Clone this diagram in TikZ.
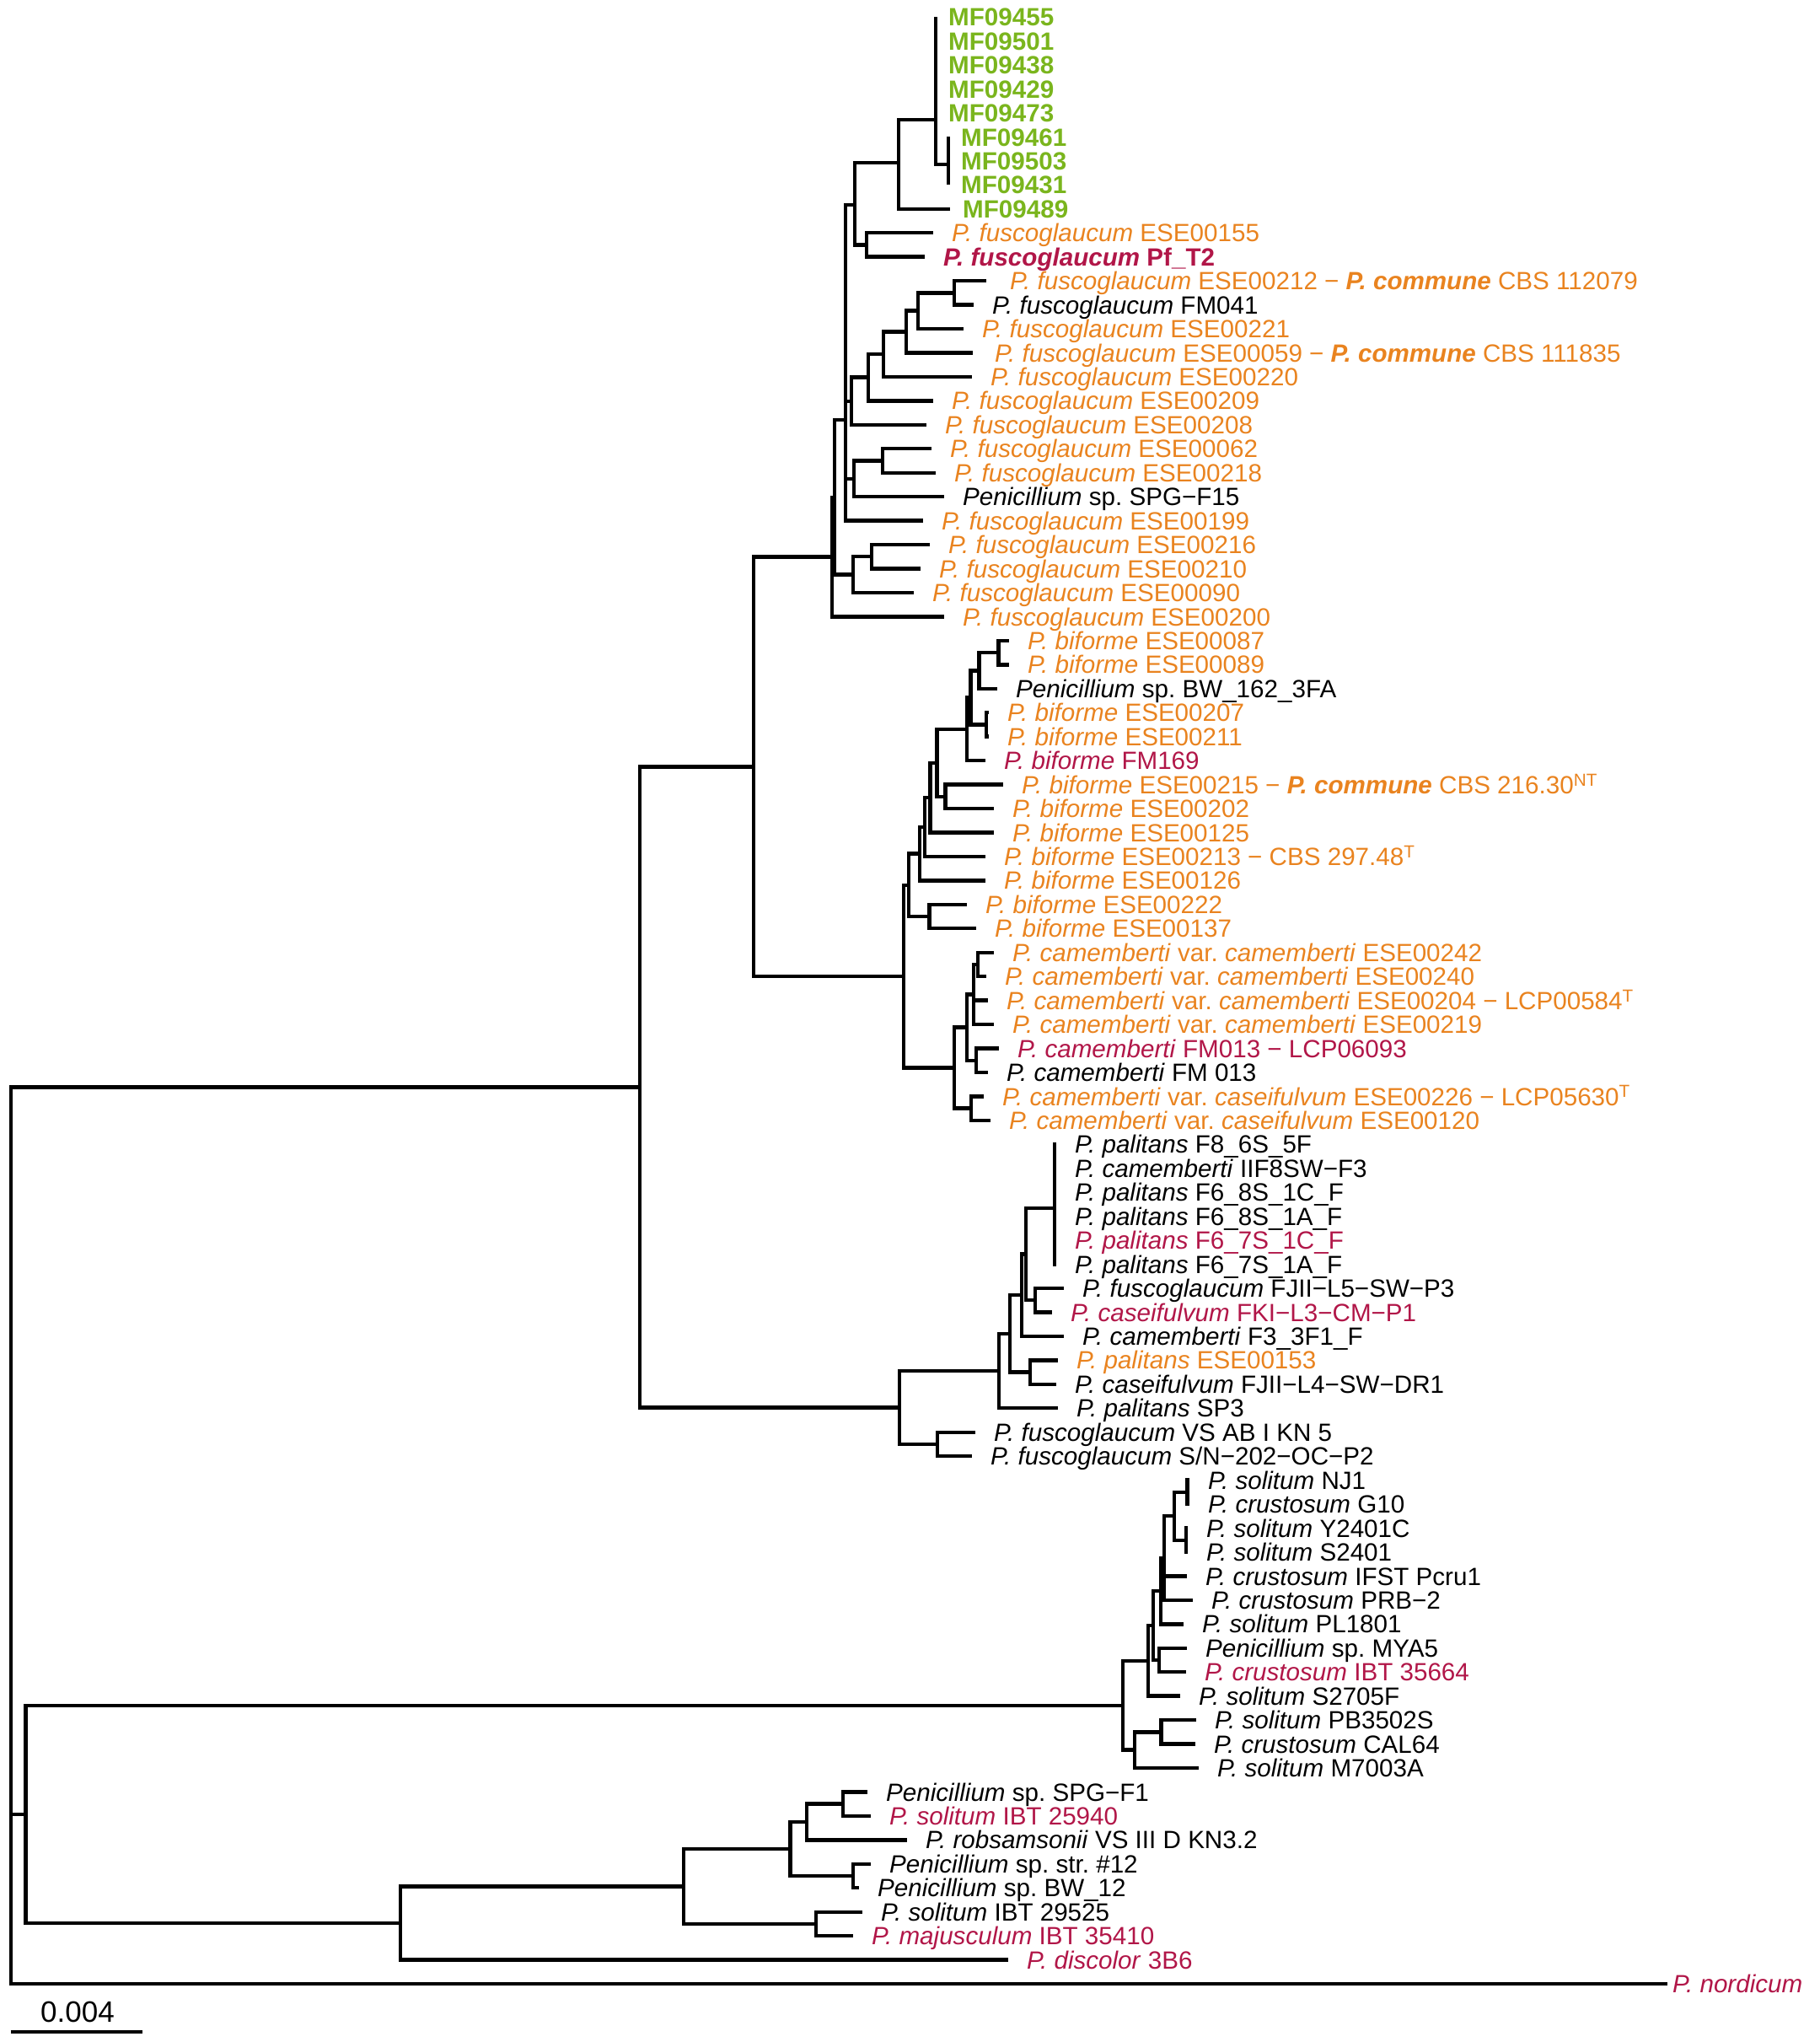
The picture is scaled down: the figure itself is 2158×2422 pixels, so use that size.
\documentclass[tikz,border=0pt]{standalone}
\usepackage{fontspec}
\setmainfont{Liberation Sans}
\usepackage{tikz}
\usetikzlibrary{positioning}
\definecolor{mfgreen}{RGB}{122,181,29}
\definecolor{eseorange}{RGB}{233,131,31}
\definecolor{refred}{RGB}{177,22,72}
\newcommand{\tx}[1]{\textit{#1}}
\newcommand{\bx}[1]{\textbf{\textit{#1}}}
\frenchspacing

\begin{document}
\begin{tikzpicture}[x=1pt, y=-1pt,
  branch/.style={line width=4.4pt},
  lab/.style={inner sep=0pt, text height=21.2pt, text depth=0pt, anchor=west, font=\fontsize{29.6}{34}\selectfont},
  mflab/.style={lab, text=mfgreen, font=\fontsize{29.6}{34}\selectfont\bfseries},
  eselab/.style={lab, text=eseorange},
  reflab/.style={lab, text=refred},
  refbold/.style={lab, text=refred, font=\fontsize{29.6}{34}\selectfont\bfseries},
  blklab/.style={lab, text=black},
  scalelab/.style={inner sep=0pt, font=\fontsize{35}{40}\selectfont}]

\useasboundingbox (0,0) rectangle (2158,2422);

\coordinate (t1) at (1110,20.1);
\coordinate (t2) at (1110,48.6);
\coordinate (t3) at (1110,77.0);
\coordinate (t4) at (1110,105.5);
\coordinate (t5) at (1110,133.9);
\coordinate (t6) at (1125,162.4);
\coordinate (t7) at (1125,190.8);
\coordinate (t8) at (1125,219.3);
\coordinate (t9) at (1127,247.7);
\coordinate (t10) at (1107,276.2);
\coordinate (t11) at (1097,304.6);
\coordinate (t12) at (1170,333.1);
\coordinate (t13) at (1155,361.5);
\coordinate (t14) at (1143,390.0);
\coordinate (t15) at (1154,418.4);
\coordinate (t16) at (1153,446.9);
\coordinate (t17) at (1107,475.3);
\coordinate (t18) at (1099,503.8);
\coordinate (t19) at (1105,532.2);
\coordinate (t20) at (1110,560.7);
\coordinate (t21) at (1120,589.1);
\coordinate (t22) at (1095,617.6);
\coordinate (t23) at (1103,646.0);
\coordinate (t24) at (1092,674.5);
\coordinate (t25) at (1084,702.9);
\coordinate (t26) at (1120,731.4);
\coordinate (t27) at (1197,759.8);
\coordinate (t28) at (1197,788.3);
\coordinate (t29) at (1183,816.7);
\coordinate (t30) at (1173,845.2);
\coordinate (t31) at (1173,873.6);
\coordinate (t32) at (1169,902.1);
\coordinate (t33) at (1190,930.5);
\coordinate (t34) at (1179,959.0);
\coordinate (t35) at (1179,987.4);
\coordinate (t36) at (1169,1015.9);
\coordinate (t37) at (1169,1044.3);
\coordinate (t38) at (1147,1072.8);
\coordinate (t39) at (1158,1101.2);
\coordinate (t40) at (1179,1129.7);
\coordinate (t41) at (1170,1158.1);
\coordinate (t42) at (1172,1186.6);
\coordinate (t43) at (1179,1215.0);
\coordinate (t44) at (1185,1243.5);
\coordinate (t45) at (1172,1271.9);
\coordinate (t46) at (1167,1300.4);
\coordinate (t47) at (1175,1328.8);
\coordinate (t48) at (1253,1357.3);
\coordinate (t49) at (1253,1385.7);
\coordinate (t50) at (1253,1414.2);
\coordinate (t51) at (1253,1442.6);
\coordinate (t52) at (1253,1471.1);
\coordinate (t53) at (1253,1499.5);
\coordinate (t54) at (1262,1528.0);
\coordinate (t55) at (1248,1556.4);
\coordinate (t56) at (1262,1584.9);
\coordinate (t57) at (1255,1613.3);
\coordinate (t58) at (1253,1641.8);
\coordinate (t59) at (1255,1670.2);
\coordinate (t60) at (1157,1698.7);
\coordinate (t61) at (1153,1727.1);
\coordinate (t62) at (1411,1755.6);
\coordinate (t63) at (1411,1784.0);
\coordinate (t64) at (1409,1812.5);
\coordinate (t65) at (1409,1840.9);
\coordinate (t66) at (1408,1869.4);
\coordinate (t67) at (1415,1897.8);
\coordinate (t68) at (1404,1926.3);
\coordinate (t69) at (1408,1954.7);
\coordinate (t70) at (1407,1983.2);
\coordinate (t71) at (1400,2011.6);
\coordinate (t72) at (1419,2040.1);
\coordinate (t73) at (1418,2068.5);
\coordinate (t74) at (1422,2097.0);
\coordinate (t75) at (1029,2125.4);
\coordinate (t76) at (1033,2153.9);
\coordinate (t77) at (1076,2182.3);
\coordinate (t78) at (1033,2210.8);
\coordinate (t79) at (1019,2239.2);
\coordinate (t80) at (1023,2267.7);
\coordinate (t81) at (1012,2296.1);
\coordinate (t82) at (1196,2324.6);
\coordinate (t83) at (1978,2353.0);

\coordinate (nA) at (1110,142);
\coordinate (nB) at (1125,195);
\coordinate (nC) at (1066,193);
\coordinate (nE) at (1028,290.4);
\coordinate (nD) at (1014,243);
\coordinate (n12) at (1132,347.3);
\coordinate (n14) at (1089,368.6);
\coordinate (n15) at (1075,393.5);
\coordinate (n16) at (1048,420);
\coordinate (n17) at (1030,447.6);
\coordinate (n18) at (1010,475.7);
\coordinate (n19) at (1047,546.4);
\coordinate (n20) at (1013,567.8);
\coordinate (nH) at (1003,498);
\coordinate (n23) at (1034,660.2);
\coordinate (n25) at (1012,681.6);
\coordinate (nI) at (990,589.8);
\coordinate (nG) at (987,660.6);
\coordinate (a1) at (1184.6,774);
\coordinate (a2) at (1161.4,795.4);
\coordinate (a4) at (1170,859.4);
\coordinate (a3) at (1151.4,827.4);
\coordinate (a5) at (1147,864.7);
\coordinate (a7) at (1121.4,944.7);
\coordinate (a6) at (1111.4,904.7);
\coordinate (a8) at (1103.6,946);
\coordinate (a9) at (1097,980.9);
\coordinate (a10) at (1091,1012.6);
\coordinate (a12) at (1102.5,1087);
\coordinate (a11) at (1078,1049.8);
\coordinate (c6) at (1160,1143.9);
\coordinate (c4) at (1155,1179.5);
\coordinate (c5) at (1158,1257.7);
\coordinate (c3) at (1147,1218.6);
\coordinate (c2) at (1152,1314.6);
\coordinate (c1) at (1132,1266.6);
\coordinate (a13) at (1072,1158.2);
\coordinate (nV) at (894,909.4);
\coordinate (p1) at (1250.7,1433);
\coordinate (p3) at (1228,1542.2);
\coordinate (p2) at (1216.7,1487.6);
\coordinate (p4) at (1211.7,1536.2);
\coordinate (p6) at (1221.7,1627.5);
\coordinate (p5) at (1198,1581.9);
\coordinate (p7) at (1185,1626);
\coordinate (p9) at (1111.7,1712.9);
\coordinate (p8) at (1066.7,1669.5);
\coordinate (nU) at (759,1289.4);
\coordinate (k1) at (1408.3,1769.8);
\coordinate (k2) at (1406.7,1826.7);
\coordinate (k3) at (1392.7,1798.2);
\coordinate (k4a) at (1381,1848);
\coordinate (k4) at (1377,1887);
\coordinate (k6) at (1375,1968.9);
\coordinate (k5) at (1368,1928);
\coordinate (k7) at (1361.7,1969.8);
\coordinate (k10) at (1377.3,2054.3);
\coordinate (k9) at (1345.7,2075.6);
\coordinate (k8) at (1331.7,2022.7);
\coordinate (nT) at (1000,2139.6);
\coordinate (nP) at (957,2161);
\coordinate (nS) at (1012,2225);
\coordinate (nO) at (937.5,2193);
\coordinate (nQ) at (968,2281.9);
\coordinate (nN) at (811,2237.4);
\coordinate (nM) at (475,2281);
\coordinate (nL) at (30.6,2151.9);
\coordinate (root) at (12.8,1821);

\node (l1) [mflab, right=15pt of t1] {MF09455};
\node (l2) [mflab, right=15pt of t2] {MF09501};
\node (l3) [mflab, right=15pt of t3] {MF09438};
\node (l4) [mflab, right=15pt of t4] {MF09429};
\node (l5) [mflab, right=15pt of t5] {MF09473};
\node (l6) [mflab, right=15pt of t6] {MF09461};
\node (l7) [mflab, right=15pt of t7] {MF09503};
\node (l8) [mflab, right=15pt of t8] {MF09431};
\node (l9) [mflab, right=15pt of t9] {MF09489};
\node (l10) [eselab, right=22pt of t10] {\tx{P. fuscoglaucum} ESE00155};
\node (l11) [refbold, right=22pt of t11] {\tx{P. fuscoglaucum} Pf\_T2};
\node (l12) [eselab, right=28pt of t12] {\tx{P. fuscoglaucum} ESE00212 − \bx{P. commune} CBS 112079};
\node (l13) [blklab, right=22pt of t13] {\tx{P. fuscoglaucum} FM041};
\node (l14) [eselab, right=22pt of t14] {\tx{P. fuscoglaucum} ESE00221};
\node (l15) [eselab, right=26pt of t15] {\tx{P. fuscoglaucum} ESE00059 − \bx{P. commune} CBS 111835};
\node (l16) [eselab, right=22pt of t16] {\tx{P. fuscoglaucum} ESE00220};
\node (l17) [eselab, right=22pt of t17] {\tx{P. fuscoglaucum} ESE00209};
\node (l18) [eselab, right=22pt of t18] {\tx{P. fuscoglaucum} ESE00208};
\node (l19) [eselab, right=22pt of t19] {\tx{P. fuscoglaucum} ESE00062};
\node (l20) [eselab, right=22pt of t20] {\tx{P. fuscoglaucum} ESE00218};
\node (l21) [blklab, right=22pt of t21] {\tx{Penicillium} sp. SPG−F15};
\node (l22) [eselab, right=22pt of t22] {\tx{P. fuscoglaucum} ESE00199};
\node (l23) [eselab, right=22pt of t23] {\tx{P. fuscoglaucum} ESE00216};
\node (l24) [eselab, right=22pt of t24] {\tx{P. fuscoglaucum} ESE00210};
\node (l25) [eselab, right=22pt of t25] {\tx{P. fuscoglaucum} ESE00090};
\node (l26) [eselab, right=22pt of t26] {\tx{P. fuscoglaucum} ESE00200};
\node (l27) [eselab, right=22pt of t27] {\tx{P. biforme} ESE00087};
\node (l28) [eselab, right=22pt of t28] {\tx{P. biforme} ESE00089};
\node (l29) [blklab, right=22pt of t29] {\tx{Penicillium} sp. BW\_162\_3FA};
\node (l30) [eselab, right=22pt of t30] {\tx{P. biforme} ESE00207};
\node (l31) [eselab, right=22pt of t31] {\tx{P. biforme} ESE00211};
\node (l32) [reflab, right=22pt of t32] {\tx{P. biforme} FM169};
\node (l33) [eselab, right=22pt of t33] {\tx{P. biforme} ESE00215 − \bx{P. commune} CBS 216.30\textsuperscript{NT}};
\node (l34) [eselab, right=22pt of t34] {\tx{P. biforme} ESE00202};
\node (l35) [eselab, right=22pt of t35] {\tx{P. biforme} ESE00125};
\node (l36) [eselab, right=22pt of t36] {\tx{P. biforme} ESE00213 − CBS 297.48\textsuperscript{T}};
\node (l37) [eselab, right=22pt of t37] {\tx{P. biforme} ESE00126};
\node (l38) [eselab, right=22pt of t38] {\tx{P. biforme} ESE00222};
\node (l39) [eselab, right=22pt of t39] {\tx{P. biforme} ESE00137};
\node (l40) [eselab, right=22pt of t40] {\tx{P. camemberti} var. \tx{camemberti} ESE00242};
\node (l41) [eselab, right=22pt of t41] {\tx{P. camemberti} var. \tx{camemberti} ESE00240};
\node (l42) [eselab, right=22pt of t42] {\tx{P. camemberti} var. \tx{camemberti} ESE00204 − LCP00584\textsuperscript{T}};
\node (l43) [eselab, right=22pt of t43] {\tx{P. camemberti} var. \tx{camemberti} ESE00219};
\node (l44) [reflab, right=22pt of t44] {\tx{P. camemberti} FM013 − LCP06093};
\node (l45) [blklab, right=22pt of t45] {\tx{P. camemberti} FM 013};
\node (l46) [eselab, right=22pt of t46] {\tx{P. camemberti} var. \tx{caseifulvum} ESE00226 − LCP05630\textsuperscript{T}};
\node (l47) [eselab, right=22pt of t47] {\tx{P. camemberti} var. \tx{caseifulvum} ESE00120};
\node (l48) [blklab, right=22pt of t48] {\tx{P. palitans} F8\_6S\_5F};
\node (l49) [blklab, right=22pt of t49] {\tx{P. camemberti} IIF8SW−F3};
\node (l50) [blklab, right=22pt of t50] {\tx{P. palitans} F6\_8S\_1C\_F};
\node (l51) [blklab, right=22pt of t51] {\tx{P. palitans} F6\_8S\_1A\_F};
\node (l52) [reflab, right=22pt of t52] {\tx{P. palitans} F6\_7S\_1C\_F};
\node (l53) [blklab, right=22pt of t53] {\tx{P. palitans} F6\_7S\_1A\_F};
\node (l54) [blklab, right=22pt of t54] {\tx{P. fuscoglaucum} FJII−L5−SW−P3};
\node (l55) [reflab, right=22pt of t55] {\tx{P. caseifulvum} FKI−L3−CM−P1};
\node (l56) [blklab, right=22pt of t56] {\tx{P. camemberti} F3\_3F1\_F};
\node (l57) [eselab, right=22pt of t57] {\tx{P. palitans} ESE00153};
\node (l58) [blklab, right=22pt of t58] {\tx{P. caseifulvum} FJII−L4−SW−DR1};
\node (l59) [blklab, right=22pt of t59] {\tx{P. palitans} SP3};
\node (l60) [blklab, right=22pt of t60] {\tx{P. fuscoglaucum} VS AB I KN 5};
\node (l61) [blklab, right=22pt of t61] {\tx{P. fuscoglaucum} S/N−202−OC−P2};
\node (l62) [blklab, right=22pt of t62] {\tx{P. solitum} NJ1};
\node (l63) [blklab, right=22pt of t63] {\tx{P. crustosum} G10};
\node (l64) [blklab, right=22pt of t64] {\tx{P. solitum} Y2401C};
\node (l65) [blklab, right=22pt of t65] {\tx{P. solitum} S2401};
\node (l66) [blklab, right=22pt of t66] {\tx{P. crustosum} IFST Pcru1};
\node (l67) [blklab, right=22pt of t67] {\tx{P. crustosum} PRB−2};
\node (l68) [blklab, right=22pt of t68] {\tx{P. solitum} PL1801};
\node (l69) [blklab, right=22pt of t69] {\tx{Penicillium} sp. MYA5};
\node (l70) [reflab, right=22pt of t70] {\tx{P. crustosum} IBT 35664};
\node (l71) [blklab, right=22pt of t71] {\tx{P. solitum} S2705F};
\node (l72) [blklab, right=22pt of t72] {\tx{P. solitum} PB3502S};
\node (l73) [blklab, right=22pt of t73] {\tx{P. crustosum} CAL64};
\node (l74) [blklab, right=22pt of t74] {\tx{P. solitum} M7003A};
\node (l75) [blklab, right=22pt of t75] {\tx{Penicillium} sp. SPG−F1};
\node (l76) [reflab, right=22pt of t76] {\tx{P. solitum} IBT 25940};
\node (l77) [blklab, right=22pt of t77] {\tx{P. robsamsonii} VS III D KN3.2};
\node (l78) [blklab, right=22pt of t78] {\tx{Penicillium} sp. str. \#12};
\node (l79) [blklab, right=22pt of t79] {\tx{Penicillium} sp. BW\_12};
\node (l80) [blklab, right=22pt of t80] {\tx{P. solitum} IBT 29525};
\node (l81) [reflab, right=22pt of t81] {\tx{P. majusculum} IBT 35410};
\node (l82) [reflab, right=22pt of t82] {\tx{P. discolor} 3B6};
\node (l83) [reflab, right=6pt of t83] {\tx{P. nordicum}};

\draw[branch] (nA) |- (t1) (nA) |- (t2) (nA) |- (t3) (nA) |- (t4) (nA) |- (t5) (nA) |- (nB);
\draw[branch] (nB) |- (t6) (nB) |- (t7) (nB) |- (t8);
\draw[branch] (nC) |- (nA) (nC) |- (t9);
\draw[branch] (nE) |- (t10) (nE) |- (t11);
\draw[branch] (nD) |- (nC) (nD) |- (nE);
\draw[branch] (n12) |- (t12) (n12) |- (t13);
\draw[branch] (n14) |- (n12) (n14) |- (t14);
\draw[branch] (n15) |- (n14) (n15) |- (t15);
\draw[branch] (n16) |- (n15) (n16) |- (t16);
\draw[branch] (n17) |- (n16) (n17) |- (t17);
\draw[branch] (n18) |- (n17) (n18) |- (t18);
\draw[branch] (n19) |- (t19) (n19) |- (t20);
\draw[branch] (n20) |- (n19) (n20) |- (t21);
\draw[branch] (nH) |- (nD) (nH) |- (n18) (nH) |- (n20) (nH) |- (t22);
\draw[branch] (n23) |- (t23) (n23) |- (t24);
\draw[branch] (n25) |- (n23) (n25) |- (t25);
\draw[branch] (nI) |- (nH) (nI) |- (n25);
\draw[branch] (nG) |- (nI) (nG) |- (t26);
\draw[branch] (a1) |- (t27) (a1) |- (t28);
\draw[branch] (a2) |- (a1) (a2) |- (t29);
\draw[branch] (a4) |- (t30) (a4) |- (t31);
\draw[branch] (a3) |- (a2) (a3) |- (a4);
\draw[branch] (a5) |- (a3) (a5) |- (t32);
\draw[branch] (a7) |- (t33) (a7) |- (t34);
\draw[branch] (a6) |- (a5) (a6) |- (a7);
\draw[branch] (a8) |- (a6) (a8) |- (t35);
\draw[branch] (a9) |- (a8) (a9) |- (t36);
\draw[branch] (a10) |- (a9) (a10) |- (t37);
\draw[branch] (a12) |- (t38) (a12) |- (t39);
\draw[branch] (a11) |- (a10) (a11) |- (a12);
\draw[branch] (c6) |- (t40) (c6) |- (t41);
\draw[branch] (c4) |- (c6) (c4) |- (t42) (c4) |- (t43);
\draw[branch] (c5) |- (t44) (c5) |- (t45);
\draw[branch] (c3) |- (c4) (c3) |- (c5);
\draw[branch] (c2) |- (t46) (c2) |- (t47);
\draw[branch] (c1) |- (c3) (c1) |- (c2);
\draw[branch] (a13) |- (a11) (a13) |- (c1);
\draw[branch] (nV) |- (nG) (nV) |- (a13);
\draw[branch] (p1) |- (t48) (p1) |- (t49) (p1) |- (t50) (p1) |- (t51) (p1) |- (t52) (p1) |- (t53);
\draw[branch] (p3) |- (t54) (p3) |- (t55);
\draw[branch] (p2) |- (p1) (p2) |- (p3);
\draw[branch] (p4) |- (p2) (p4) |- (t56);
\draw[branch] (p6) |- (t57) (p6) |- (t58);
\draw[branch] (p5) |- (p4) (p5) |- (p6);
\draw[branch] (p7) |- (p5) (p7) |- (t59);
\draw[branch] (p9) |- (t60) (p9) |- (t61);
\draw[branch] (p8) |- (p7) (p8) |- (p9);
\draw[branch] (nU) |- (nV) (nU) |- (p8);
\draw[branch] (k1) |- (t62) (k1) |- (t63);
\draw[branch] (k2) |- (t64) (k2) |- (t65);
\draw[branch] (k3) |- (k1) (k3) |- (k2);
\draw[branch] (k4a) |- (k3) (k4a) |- (t66) (k4a) |- (t67);
\draw[branch] (k4) |- (k4a) (k4) |- (t68);
\draw[branch] (k6) |- (t69) (k6) |- (t70);
\draw[branch] (k5) |- (k4) (k5) |- (k6);
\draw[branch] (k7) |- (k5) (k7) |- (t71);
\draw[branch] (k10) |- (t72) (k10) |- (t73);
\draw[branch] (k9) |- (k10) (k9) |- (t74);
\draw[branch] (k8) |- (k7) (k8) |- (k9);
\draw[branch] (nT) |- (t75) (nT) |- (t76);
\draw[branch] (nP) |- (nT) (nP) |- (t77);
\draw[branch] (nS) |- (t78) (nS) |- (t79);
\draw[branch] (nO) |- (nP) (nO) |- (nS);
\draw[branch] (nQ) |- (t80) (nQ) |- (t81);
\draw[branch] (nN) |- (nO) (nN) |- (nQ);
\draw[branch] (nM) |- (nN) (nM) |- (t82);
\draw[branch] (nL) |- (k8) (nL) |- (nM);
\draw[branch] (root) |- (nU) (root) |- (nL) (root) |- (t83);

\coordinate (sbl) at (12.7,2410);
\coordinate (sbr) at (169,2410);
\draw[branch] (sbl) -- (sbr);
\node (sbt) [scalelab] at (92,2386) {0.004};

\end{tikzpicture}
\end{document}
